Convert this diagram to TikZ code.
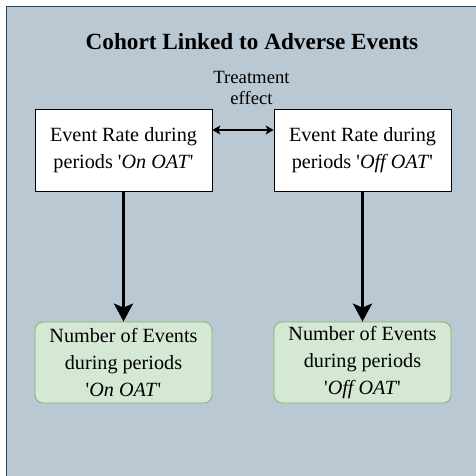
\documentclass[tikz,border=0pt]{standalone}
\usepackage{fontspec}
\setmainfont{Liberation Serif}
\usetikzlibrary{arrows.meta,positioning}
\definecolor{cohortfill}{HTML}{BAC8D3}
\definecolor{cohortline}{HTML}{23445D}
\definecolor{countfill}{HTML}{D5E8D4}
\definecolor{countline}{HTML}{82B366}

\begin{document}
\begin{tikzpicture}[x=1pt,y=-1pt]
% Two box styles: rates and counts
\tikzstyle{rate node}=[draw,fill=white,line width=0.8pt,minimum width=177pt,minimum height=82pt,inner sep=0,align=center,font=\fontsize{20.2}{27}\selectfont];
\tikzstyle{count node}=[draw=countline,fill=countfill,line width=0.8pt,rounded corners=8pt,minimum width=177pt,minimum height=81pt,inner sep=0,align=center,font=\fontsize{20.2}{27}\selectfont];
\tikzstyle{big arrow}=[line width=3pt,-{Stealth[length=18pt,width=19pt,inset=4pt]}];
% The cohort
\useasboundingbox (0,0) rectangle (475,476);
\draw[draw=cohortline,fill=cohortfill,line width=0.8pt] (6.5,6.5) rectangle (495,495);
\node(title)[font=\fontsize{23.2}{28}\selectfont\bfseries] at (252,42){Cohort Linked to Adverse Events};
% The rates
\node(on)[rate node] at (123.5,150){Event Rate during\\periods \textquotesingle\textit{On OAT}\textquotesingle};
\node(off)[rate node] at (362.5,150){Event Rate during\\periods \textquotesingle\textit{Off OAT}\textquotesingle};
\node(effect)[align=center,font=\fontsize{18.7}{21.7}\selectfont] at (251.5,88){Treatment\\effect};
\draw[line width=1.2pt,{Stealth[length=8pt,width=9pt,inset=2pt]}-{Stealth[length=8pt,width=9pt,inset=2pt]}]([yshift=20pt]on.east)--([yshift=20pt]off.west);
% The counts
\node(oncount)[count node] at (123.5,362.5){Number of Events\\during periods\\\textquotesingle\textit{On OAT}\textquotesingle};
\node(offcount)[count node] at (362.5,362.5){Number of Events\\during periods\\\textquotesingle\textit{Off OAT}\textquotesingle};
\draw[big arrow](on)--(oncount);
\draw[big arrow](off)--(offcount);
\end{tikzpicture}
\end{document}
